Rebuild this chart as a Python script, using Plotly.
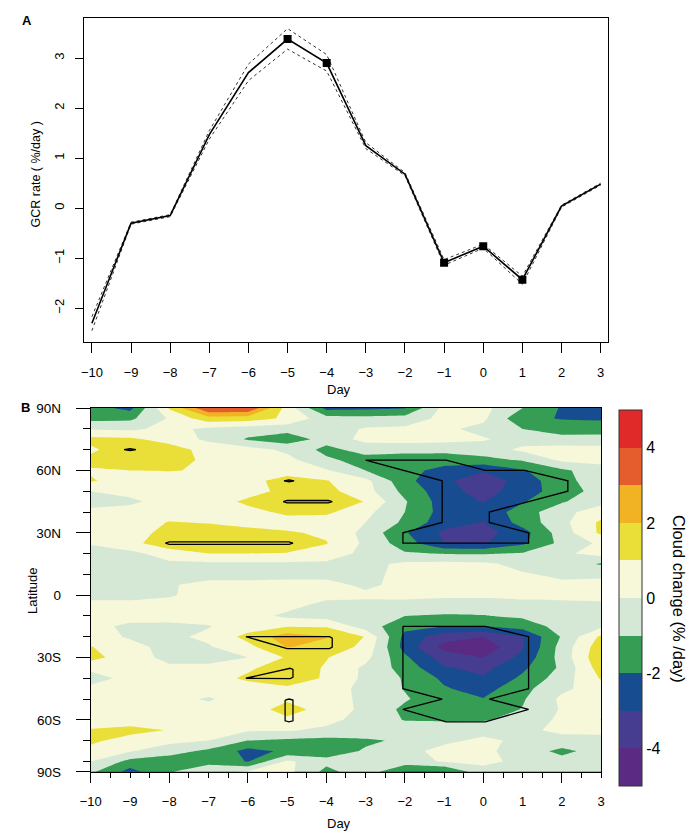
import numpy as np
import plotly.graph_objects as go

W, H = 692, 839
FONT = "Liberation Sans, Arial, Helvetica, sans-serif"

# ---------------- Panel A data ----------------
days_a = list(range(-10, 4))
gcr_rate = [-2.30, -0.30, -0.15, 1.47, 2.71, 3.38, 2.90, 1.25, 0.68, -1.09, -0.76, -1.43, 0.04, 0.48]
gcr_upper = [-2.17, -0.28, -0.13, 1.55, 2.88, 3.59, 3.07, 1.31, 0.71, -1.03, -0.72, -1.36, 0.06, 0.50]
gcr_lower = [-2.45, -0.32, -0.17, 1.38, 2.55, 3.18, 2.74, 1.19, 0.65, -1.14, -0.80, -1.52, 0.02, 0.46]
gcr_significant = [False, False, False, False, False, True, True, False, False, True, True, True, False, False]

# ---------------- Panel B data ----------------
days_b = list(range(-10, 4))
lat_b = [90, 85, 80, 75, 70, 65, 60, 55, 50, 45, 40, 35, 30, 25, 20, 15, 10, 5, 0,
         -5, -10, -15, -20, -25, -30, -35, -40, -45, -50, -55, -60, -65, -70, -75, -80, -85]
cloud_change = [
    [-1.6, -2.3, 1.1, 3.95, 3.9, 0.6, -2.3, -2.2, -2.05, 0.3, 0.3, -1.0, -2.1, -2.5],
    [-1.3, -1.2, 0.1, 1.6, 1.5, 0.8, -0.6, -0.7, -0.6, 0.3, 0.2, -1.8, -2.05, -2.1],
    [-0.1, -0.2, 0.3, -0.2, -0.5, -0.6, -0.5, 0.1, 0.2, 0.2, -0.3, -1.0, -1.5, -1.6],
    [1.3, 1.2, 0.6, -0.2, -1.1, -1.6, -0.6, 0.3, 0.4, 0.3, 0.1, -0.4, -0.6, -0.5],
    [0.8, 1.7, 1.5, 0.6, 0.4, -0.2, -1.3, -0.6, -0.7, -0.7, -0.5, 0.2, 0.4, 0.3],
    [1.3, 1.6, 1.4, 0.8, 0.3, 0.3, -0.8, -1.4, -1.5, -1.6, -1.3, -0.9, 0.2, 0.3],
    [0.9, 1.0, 1.05, 0.9, 0.4, 0.3, 0.1, -1.0, -1.7, -2.3, -2.9, -2.1, -1.2, -0.4],
    [1.1, 0.5, 0.4, 0.3, 0.5, 1.6, 1.05, 0.3, -1.7, -2.8, -3.6, -2.6, -1.3, -0.5],
    [0.0, 0.3, 0.4, 0.4, 0.6, 1.3, 1.3, 0.4, -1.3, -2.6, -3.4, -2.5, -1.5, -0.6],
    [-0.5, -0.2, 0.4, 0.5, 1.2, 1.9, 1.9, 0.95, -0.9, -2.5, -3.05, -2.1, -1.1, -0.3],
    [0.3, 0.4, 0.5, 0.5, 0.7, 1.2, 1.2, 0.3, -1.0, -2.4, -2.7, -1.5, -0.3, 0.5],
    [0.3, 0.5, 1.05, 0.95, 0.8, 0.6, 0.5, 0.0, -1.2, -2.6, -3.05, -1.6, -0.3, 1.2],
    [0.4, 0.6, 1.3, 1.4, 1.2, 1.1, 0.85, -0.3, -1.9, -3.2, -3.4, -2.4, -0.5, 1.2],
    [0.1, 0.7, 1.6, 1.7, 1.6, 1.5, 1.05, -0.2, -1.5, -3.0, -3.1, -2.2, -0.7, 0.2],
    [-0.5, -0.3, 0.5, 1.0, 1.0, 0.95, 0.6, -0.3, -0.9, -1.05, -1.1, -0.9, -0.2, 0.4],
    [-0.2, -0.2, -0.2, -0.2, -0.2, -0.2, -0.2, -0.3, 0.2, 0.3, 0.2, -0.3, -0.4, -1.1],
    [-0.4, -0.4, -0.4, -0.4, -0.4, -0.3, -0.3, -0.3, 0.3, 0.4, 0.3, 0.1, -0.2, -0.2],
    [-0.3, -0.3, -0.1, 0.3, 0.3, 0.3, 0.3, -0.2, 0.3, 0.3, 0.2, 0.1, 0.2, 0.3],
    [-0.3, -0.3, -0.1, 0.4, 0.4, 0.4, 0.3, 0.2, 0.3, 0.2, 0.2, 0.3, 0.3, 0.3],
    [0.3, 0.3, 0.4, 0.4, 0.6, 0.3, -0.3, -0.3, -0.4, -0.5, -0.5, -0.4, -0.3, -0.2],
    [0.3, 0.4, 0.5, 0.4, 0.4, -0.2, -0.4, -0.5, -1.0, -1.1, -1.05, -0.8, -0.4, -0.2],
    [0.3, -0.2, -0.3, -0.05, 0.5, 0.95, 0.9, -0.5, -1.7, -2.0, -2.0, -1.6, -0.6, -0.2],
    [0.4, -0.1, -0.2, 0.2, 1.3, 2.5, 2.05, 0.95, -2.3, -3.6, -4.0, -3.0, -0.9, 1.2],
    [1.05, 0.3, -0.3, -0.1, 0.7, 2.05, 1.7, 0.7, -2.4, -4.3, -4.7, -3.1, -0.6, 1.6],
    [1.3, 0.5, -0.3, -0.3, 0.0, 1.1, 1.05, 0.3, -1.8, -3.5, -4.0, -2.7, -0.6, 1.8],
    [0.3, 0.4, 0.2, 0.2, 0.8, 1.6, 0.9, -0.2, -1.4, -2.9, -3.3, -2.2, -0.8, 1.5],
    [-0.5, 0.4, 0.4, 0.5, 1.2, 1.9, 0.8, -0.2, -1.1, -2.2, -2.9, -1.8, -0.5, 1.1],
    [0.3, 0.3, 0.4, 0.4, 0.5, 0.7, 0.5, -0.3, -1.05, -1.9, -2.4, -1.3, -0.2, 0.5],
    [0.3, 0.3, 0.3, -0.1, 0.5, 0.9, 0.4, -0.2, -0.9, -1.6, -1.95, -1.1, 0.2, 0.4],
    [0.3, 0.3, 0.3, 0.3, 0.6, 1.3, 0.7, -0.3, -1.2, -1.5, -1.6, -0.95, 0.1, 0.3],
    [0.6, 0.5, 0.4, 0.3, 0.3, 0.85, 0.3, -0.4, -1.05, -1.1, -1.1, -0.6, 0.2, 1.05],
    [1.05, 1.3, 0.95, 0.4, 0.1, 0.1, -0.2, -0.3, -0.5, -0.4, -0.3, -0.2, 0.2, 0.3],
    [1.2, 0.6, 0.3, 0.0, -1.0, -1.2, -1.3, -1.15, -0.85, -0.2, 0.2, -0.2, -0.3, -0.4],
    [0.7, 0.1, -0.6, -1.2, -2.3, -1.85, -1.5, -0.9, -0.3, 0.3, 0.2, -0.4, -1.3, -0.5],
    [0.0, -1.3, -1.5, -1.4, -2.05, 0.2, -0.7, -0.4, -0.4, 0.1, 0.2, -0.2, -0.6, -0.3],
    [-0.8, -2.4, -1.1, -0.2, 0.1, 0.3, -1.3, -0.4, -2.1, -2.1, -0.3, -0.2, -0.3, -0.2],
]

# significance outlines (day, latitude vertices)
sig_regions = {
    "n_main": ([-3.0, -0.95, 0.05, 1.05, 2.15, 2.15, 0.15, 0.15, 1.15, 1.15, -2.05, -2.05, -1.05, -1.05, -3.0],
               [65, 65, 60, 60, 55, 50, 40, 35, 30, 25, 25, 30, 35, 55, 65]),
    "s_main": ([-2.05, 0.05, 1.15, 1.15, 0.15, 1.15, 0.05, -0.95, -2.05, -1.05, -2.05, -2.05],
               [-15, -15, -20, -45, -50, -55, -61, -61, -55, -50, -45, -15]),
    "n70": ([-9.15, -9.0, -8.85, -9.0, -9.15], [70, 70.5, 70, 69.5, 70]),
    "n55": ([-5.08, -4.95, -4.82, -4.95, -5.08], [55, 55.5, 55, 54.5, 55]),
    "n45": ([-5.1, -5.0, -3.95, -3.85, -3.95, -5.0, -5.1], [45, 45.6, 45.6, 45, 44.4, 44.4, 45]),
    "n25": ([-8.1, -8.0, -4.95, -4.85, -4.95, -8.0, -8.1], [25, 25.6, 25.6, 25, 24.4, 24.4, 25]),
    "s20": ([-6.05, -3.92, -3.85, -3.85, -3.92, -5.0, -6.05], [-20, -20, -20.7, -25, -25.7, -25.7, -20]),
    "s40": ([-6.05, -4.92, -4.85, -4.85, -4.92, -6.05], [-40, -35.2, -35.8, -39.5, -40.2, -40]),
    "s55": ([-5.05, -4.95, -4.85, -4.85, -4.95, -5.05, -5.05], [-50.5, -50, -50.5, -60.5, -61, -60.5, -50.5]),
}
sig_fill = {"n45": "#9C8F30", "n55": "#555522", "n70": "#555522"}

level_colors = ["#5B2A82", "#3A4897", "#0B4D8E", "#3EAB4B", "#DCEBDC",
                "#F8F8E1", "#E8E43C", "#F4C521", "#E8782D", "#E02A2A"]

lat_ticks = [90, 60, 30, 0, -30, -60, -85]
lat_ticktext = ["90N", "60N", "30N", "0", "30S", "60S", "90S"]
cb_ticks = [4, 2, 0, -2, -4]

def minus(v):
    return str(v).replace("-", "\u2212")

# ---------------- geometry ----------------
def px(x):
    return x / W

def py(y):
    return 1 - y / H

A_dom_x = [px(74.7), px(610.7)]
A_dom_y = [py(341.3), py(11.3)]
B_dom_x = [px(81.5), px(603.3)]
B_dom_y = [py(778.7), py(408.4)]

fig = go.Figure()

# Panel A traces
fig.add_trace(go.Scatter(x=days_a, y=gcr_upper, mode="lines",
                         line=dict(color="#333", width=1, dash="dot"), xaxis="x", yaxis="y", showlegend=False))
fig.add_trace(go.Scatter(x=days_a, y=gcr_lower, mode="lines",
                         line=dict(color="#333", width=1, dash="dot"), xaxis="x", yaxis="y", showlegend=False))
fig.add_trace(go.Scatter(x=days_a, y=gcr_rate, mode="lines",
                         line=dict(color="black", width=1.6), xaxis="x", yaxis="y", showlegend=False))
sig_x = [d for d, s in zip(days_a, gcr_significant) if s]
sig_y = [v for v, s in zip(gcr_rate, gcr_significant) if s]
fig.add_trace(go.Scatter(x=sig_x, y=sig_y, mode="markers",
                         marker=dict(symbol="square", size=8, color="black"),
                         xaxis="x", yaxis="y", showlegend=False))

# Panel B contour
lat_arr = np.array(lat_b)[::-1]
z_arr = np.array(cloud_change)[::-1]
colors_ext = [level_colors[0]] + level_colors + [level_colors[-1]]
cscale = [[k / (len(colors_ext) - 1), c] for k, c in enumerate(colors_ext)]
fig.add_trace(go.Contour(
    x=days_b, y=lat_arr, z=z_arr,
    zmin=-5, zmax=5, zauto=False,
    contours=dict(start=-5, end=5, size=1, coloring="fill", showlines=False),
    line=dict(width=0, smoothing=0),
    colorscale=cscale,
    xaxis="x2", yaxis="y2",
    colorbar=dict(x=px(621), xanchor="left", xpad=0, ypad=0,
                  thickness=23, thicknessmode="pixels",
                  len=376, lenmode="pixels",
                  y=py(602), yanchor="middle",
                  tickvals=cb_ticks, ticktext=[str(t) for t in cb_ticks],
                  ticks="", tickfont=dict(size=16, family=FONT, color="black"),
                  outlinewidth=1, outlinecolor="#333"),
    hoverinfo="skip",
))

for name, (dx, dy) in sig_regions.items():
    extra = {}
    if name in sig_fill:
        extra = dict(fill="toself", fillcolor=sig_fill[name])
    fig.add_trace(go.Scatter(x=dx, y=dy, mode="lines",
                             line=dict(color="black", width=1.3),
                             xaxis="x3", yaxis="y2", showlegend=False, hoverinfo="skip", **extra))

axis_common = dict(showline=True, mirror=True, linecolor="black", linewidth=1,
                   showgrid=False, zeroline=False, ticks="outside", tickcolor="black",
                   tickfont=dict(size=13, family=FONT, color="black"))

half_days = [d + 0.5 for d in range(-10, 3)]

fig.update_layout(
    width=W, height=H, margin=dict(l=0, r=0, t=0, b=0),
    paper_bgcolor="white", plot_bgcolor="white",
    font=dict(family=FONT, color="black"),
    showlegend=False,
    xaxis=dict(domain=A_dom_x, anchor="y", range=[-10.2, 3.2],
               tickmode="array", tickvals=days_a, ticktext=[minus(d) for d in days_a],
               ticklen=10, ticklabelstandoff=8, **axis_common),
    yaxis=dict(domain=A_dom_y, anchor="x", range=[-2.68, 3.80],
               tickmode="array", tickvals=[-2, -1, 0, 1, 2, 3],
               ticktext=[minus(v) for v in [-2, -1, 0, 1, 2, 3]],
               tickangle=-90, ticklen=8, ticklabelstandoff=6, **axis_common),
    xaxis2=dict(domain=B_dom_x, anchor="y2", range=[-10, 3],
                tickmode="array", tickvals=days_b, ticktext=[minus(d) for d in days_b],
                ticklen=5, ticklabelstandoff=13,
                minor=dict(tickmode="array", tickvals=half_days, ticks="outside",
                           ticklen=5, tickcolor="black", showgrid=False),
                **axis_common),
    xaxis3=dict(overlaying="x2", anchor="y2", range=[-10, 3], side="bottom",
                tickmode="array", tickvals=[-10, -8, -6, -4, -2, 0, 2],
                ticks="outside", ticklen=10, tickcolor="black",
                showticklabels=False, showline=False, showgrid=False, zeroline=False),
    yaxis2=dict(domain=B_dom_y, anchor="x2", range=[-85, 90],
                tickmode="array", tickvals=lat_ticks, ticktext=lat_ticktext,
                ticklen=14, ticklabelstandoff=12,
                minor=dict(tickmode="array",
                           tickvals=[80, 70, 50, 40, 20, 10, -10, -20, -40, -50, -70, -80],
                           ticks="outside", ticklen=7, tickcolor="black", showgrid=False),
                **{**axis_common, "tickfont": dict(size=13.5, family=FONT, color="black")}),
)

ann = [
    dict(text="<b>A</b>", x=px(16), y=py(14), size=13, angle=0),
    dict(text="<b>B</b>", x=px(15), y=py(408), size=13, angle=0),
    dict(text="GCR rate ( %/day )", x=px(26), y=py(170), size=12.5, angle=-90),
    dict(text="Day", x=px(335), y=py(389), size=13, angle=0),
    dict(text="Latitude", x=px(22), y=py(595), size=13, angle=-90),
    dict(text="Day", x=px(335), y=py(831), size=13, angle=0),
    dict(text="Cloud change (% /day)", x=px(683), y=py(603), size=16.5, angle=90),
]
for a in ann:
    fig.add_annotation(text=a["text"], x=a["x"], y=a["y"], xref="paper", yref="paper",
                       xanchor="center", yanchor="middle", showarrow=False,
                       textangle=a["angle"], font=dict(size=a["size"], family=FONT, color="black"))

fig.write_html("out.html")
